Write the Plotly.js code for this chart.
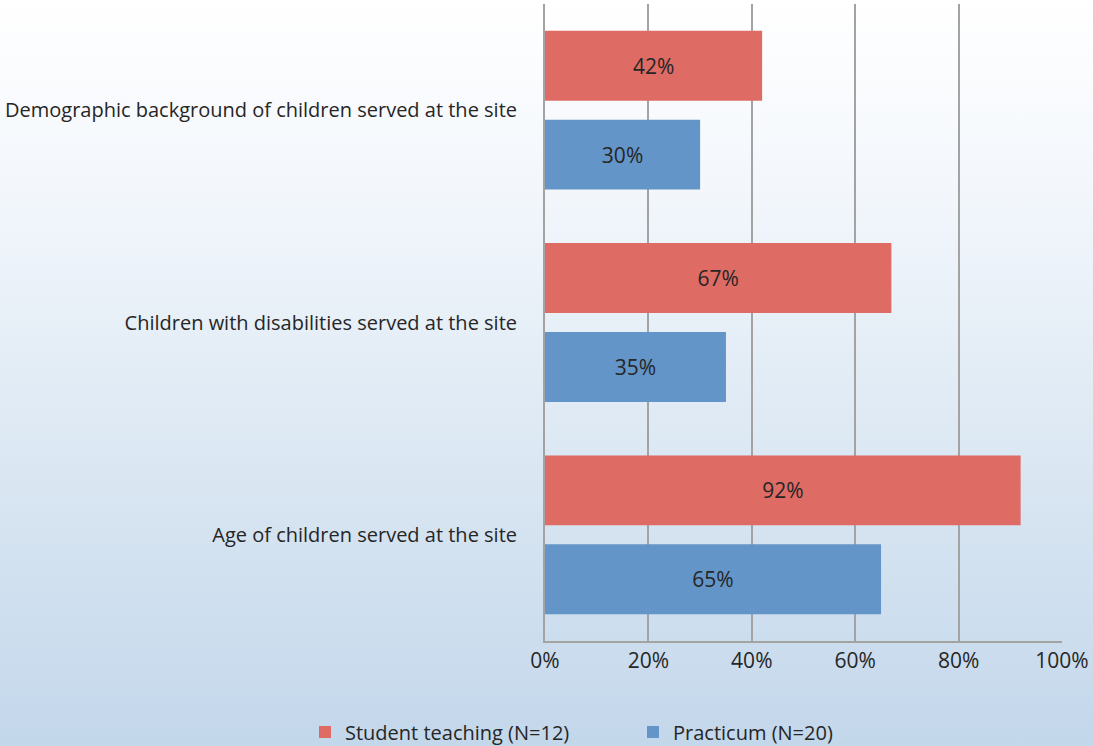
<!DOCTYPE html>
<html>
<head>
<meta charset="utf-8">
<script src="https://cdn.plot.ly/plotly-3.0.1.min.js"></script>
<style>
  html, body { margin: 0; padding: 0; }
  body { width: 1093px; height: 746px; background: linear-gradient(to bottom, #ffffff 0%, #f3f7fc 25%, #dce8f3 60%, #c3d7eb 100%); }
  #chart { width: 1093px; height: 746px; }
</style>
</head>
<body>
<div id="chart"></div>
<script>
const categories = [
  "Demographic background of children served at the site",
  "Children with disabilities served at the site",
  "Age of children served at the site"
];
const studentTeaching = [42, 67, 92];
const practicum = [30, 35, 65];
const seriesNames = ["Student teaching (N=12)", "Practicum (N=20)"];
const tickVals = [0, 20, 40, 60, 80, 100];
const tickText = ["0%", "20%", "40%", "60%", "80%", "100%"];

const font = "'Open Sans', Lato, sans-serif";
const numSize = 21;
const labelSize = 20;

const traces = [
  {
    type: "bar", orientation: "h", name: seriesNames[0], legend: "legend",
    y: categories, x: studentTeaching,
    text: studentTeaching.map(v => v + "%"),
    textposition: "inside", insidetextanchor: "middle", constraintext: "none",
    textfont: { family: font, size: numSize, color: "#262626" },
    marker: { color: "#df6b65" },
    hoverinfo: "x+name"
  },
  {
    type: "bar", orientation: "h", name: seriesNames[1], legend: "legend2",
    y: categories, x: practicum,
    text: practicum.map(v => v + "%"),
    textposition: "inside", insidetextanchor: "middle", constraintext: "none",
    textfont: { family: font, size: numSize, color: "#262626" },
    marker: { color: "#6395c9" },
    hoverinfo: "x+name"
  }
];

const legendBase = {
  orientation: "h",
  xref: "container", yref: "container",
  y: 0.0188, xanchor: "left", yanchor: "middle",
  font: { family: font, size: labelSize, color: "#262626" },
  itemwidth: 30,
  bgcolor: "rgba(0,0,0,0)"
};

const layout = {
  width: 1093, height: 746,
  paper_bgcolor: "rgba(0,0,0,0)",
  plot_bgcolor: "rgba(0,0,0,0)",
  margin: { l: 545, r: 31, t: 4, b: 105 },
  barmode: "group",
  bargap: 0.163,
  bargroupgap: 0.2135,
  font: { family: font, size: labelSize, color: "#262626" },
  showlegend: true,
  legend: Object.assign({}, legendBase, { x: 305 / 1093 }),
  legend2: Object.assign({}, legendBase, { x: 633 / 1093 }),
  xaxis: {
    range: [0, 100],
    tickvals: tickVals, ticktext: tickText,
    showgrid: true, gridcolor: "#a3a3a3", gridwidth: 2,
    zeroline: false,
    showline: true, linecolor: "#a3a3a3", linewidth: 2,
    ticks: "", ticklabelstandoff: 0,
    tickfont: { family: font, size: numSize, color: "#262626" },
    fixedrange: true
  },
  yaxis: {
    type: "category",
    autorange: "reversed",
    showgrid: false, zeroline: false,
    showline: true, linecolor: "#a3a3a3", linewidth: 2,
    ticks: "", ticklabelstandoff: 22,
    tickfont: { family: font, size: labelSize, color: "#262626" },
    fixedrange: true
  }
};

Plotly.newPlot("chart", traces, layout, { displayModeBar: false, staticPlot: true });
</script>
</body>
</html>
